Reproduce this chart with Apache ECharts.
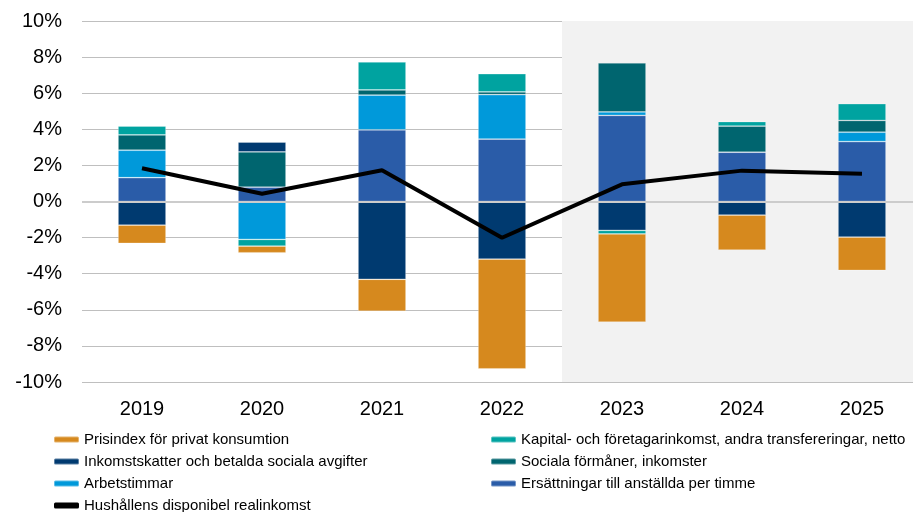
<!DOCTYPE html>
<html>
<head>
<meta charset="utf-8">
<script src="https://cdn.jsdelivr.net/npm/echarts@6/dist/echarts.min.js"></script>
<style>
  body { margin: 0; background: #fff; }
  #chart { width: 913px; height: 512px; }
</style>
</head>
<body>
<div id="chart"></div>
<script>
// data (procent, bidrag till förändring)
const years = ['2019', '2020', '2021', '2022', '2023', '2024', '2025']
const prisindex = [-1.01, -0.37, -1.77, -6.08, -4.88, -1.94, -1.85]
const inkomstskatter = [-1.31, 0.54, -4.31, -3.19, -1.6, -0.75, -1.97]
const arbetstimmar = [1.52, -2.1, 1.93, 2.46, 0.19, 0, 0.52]
const ersattningar = [1.32, 0.79, 3.97, 3.46, 4.77, 2.73, 3.32]
const sociala = [0.85, 1.96, 0.28, 0.15, 2.72, 1.45, 0.65]
const kapital = [0.49, -0.37, 1.55, 1.01, -0.2, 0.25, 0.93]
const realinkomst = [1.84, 0.43, 1.73, -2.01, 0.95, 1.71, 1.54]
// prognosår skuggas
const shade = ['rgba(0,0,0,0)', 'rgba(0,0,0,0)', 'rgba(0,0,0,0)', 'rgba(0,0,0,0)', '#f2f2f2', '#f2f2f2', '#f2f2f2']

const font = 'Liberation Sans, Arial, sans-serif'

function bar(name, data, color) {
  return {
    name: name,
    type: 'bar',
    stack: 'bidrag',
    barWidth: 48,
    data: data,
    itemStyle: {
      color: color,
      borderColor: 'rgba(255,255,255,0.35)',
      borderWidth: 0.75,
    },
  }
}

let myChart = echarts.init(document.getElementById('chart'))
myChart.setOption({
  animation: false,
  textStyle: { fontFamily: font },
  // diagrammet är beskuret i högerkanten
  grid: { left: 82, width: 840, top: 21, height: 361, outerBoundsMode: 'none', containLabel: false },
  legend: [
    {
      orient: 'vertical',
      left: 53,
      top: 432,
      height: 100,
      padding: 0,
      itemWidth: 25,
      itemHeight: 6,
      itemGap: 7,
      textStyle: { fontSize: 15, color: '#000', fontFamily: font },
      data: [
        'Prisindex för privat konsumtion',
        'Inkomstskatter och betalda sociala avgifter',
        'Arbetstimmar',
        { name: 'Hushållens disponibel realinkomst', icon: 'roundRect' },
      ],
    },
    {
      orient: 'vertical',
      left: 490,
      top: 432,
      height: 100,
      padding: 0,
      itemWidth: 25,
      itemHeight: 6,
      itemGap: 7,
      textStyle: { fontSize: 15, color: '#000', fontFamily: font },
      data: ['Kapital- och företagarinkomst, andra transfereringar, netto', 'Sociala förmåner, inkomster', 'Ersättningar till anställda per timme'],
    },
  ],
  xAxis: {
    type: 'category',
    data: years,
    axisLine: { show: false },
    axisTick: { show: false },
    axisLabel: { fontSize: 20, color: '#000', margin: 17 },
    splitArea: { show: true, areaStyle: { color: shade } },
  },
  yAxis: {
    type: 'value',
    min: -10,
    max: 10,
    interval: 2,
    axisLabel: { fontSize: 20, color: '#000', margin: 20, formatter: '{value}%' },
    splitLine: { lineStyle: { color: '#bfbfbf', width: 1 } },
  },
  series: [
    bar('Ersättningar till anställda per timme', ersattningar, '#2a5ca8'),
    bar('Arbetstimmar', arbetstimmar, '#0099da'),
    bar('Sociala förmåner, inkomster', sociala, '#00656f'),
    bar('Inkomstskatter och betalda sociala avgifter', inkomstskatter, '#003a70'),
    bar('Kapital- och företagarinkomst, andra transfereringar, netto', kapital, '#00a3a0'),
    bar('Prisindex för privat konsumtion', prisindex, '#d6891e'),
    {
      name: 'Hushållens disponibel realinkomst',
      type: 'line',
      data: realinkomst,
      symbol: 'none',
      color: '#000',
      lineStyle: { color: '#000', width: 4 },
      z: 5,
      markLine: {
        silent: true,
        symbol: 'none',
        label: { show: false },
        lineStyle: { color: '#cccccc', width: 2, type: 'solid' },
        data: [{ yAxis: 0 }],
      },
    },
  ],
})
</script>
</body>
</html>
